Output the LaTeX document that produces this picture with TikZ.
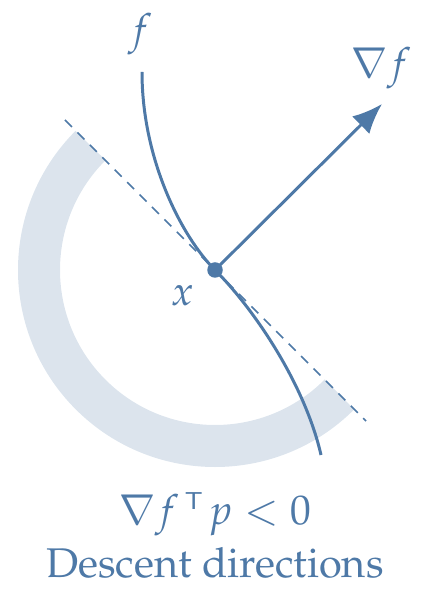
\documentclass[tikz,border=0pt]{standalone}
\usepackage[T1]{fontenc}
\usepackage{mathpazo}
\usetikzlibrary{arrows.meta}
\definecolor{tabblue}{HTML}{4E79A7}

\begin{document}
\begin{tikzpicture}[
    every node/.style={text=tabblue,font=\fontsize{11.8}{13}\selectfont},
    curveline/.style={tabblue,line width=0.85pt},
    tangentline/.style={tabblue,line width=0.45pt,dash pattern=on 2.8pt off 2.2pt},
    halfplane/.style={tabblue!20,line width=0.42cm}
  ]
      \useasboundingbox (0,0) rectangle (4.24,-5.93);
      % descent region, half ring round x
      \draw[halfplane] (2.15,-2.70) ++(135:1.76) arc (135:315:1.76);
      % tangent line through x
      \coordinate (tl) at (0.65,-1.20);
      \coordinate (br) at (3.66,-4.21);
      \draw[tangentline] (tl) -- (br);
      % point x
      \node[circle,fill=tabblue,inner sep=0pt,minimum size=0.155cm] (x) at (2.15,-2.70) {};
      \coordinate (fstart) at (1.42,-0.72);
      \coordinate (fend)   at (3.21,-4.55);
      \coordinate (gtip)   at (3.82,-1.04);
      \draw[curveline]
      (fstart) .. controls (1.42,-1.60) and (1.82,-2.37) .. (x.center)
      .. controls (2.55,-3.10) and (3.05,-3.85) .. (fend)
      ;
      \draw[curveline,-{Latex[length=8.5pt,width=7pt]}] (x.center) -- (gtip);
      % labels
      \node (flabel) at (1.40,-0.34) {$f$};
      \node (glabel) at (3.81,-0.68) {$\nabla f$};
      \node (xlabel) at (1.83,-2.96) {$x$};
      \node (cond)   at (2.15,-5.14) {$\nabla f^{\,\scriptscriptstyle\mathsf{T}\,} p < 0$};
      \node (desc)   at (2.15,-5.63) {Descent directions};
    \end{tikzpicture}
\end{document}
